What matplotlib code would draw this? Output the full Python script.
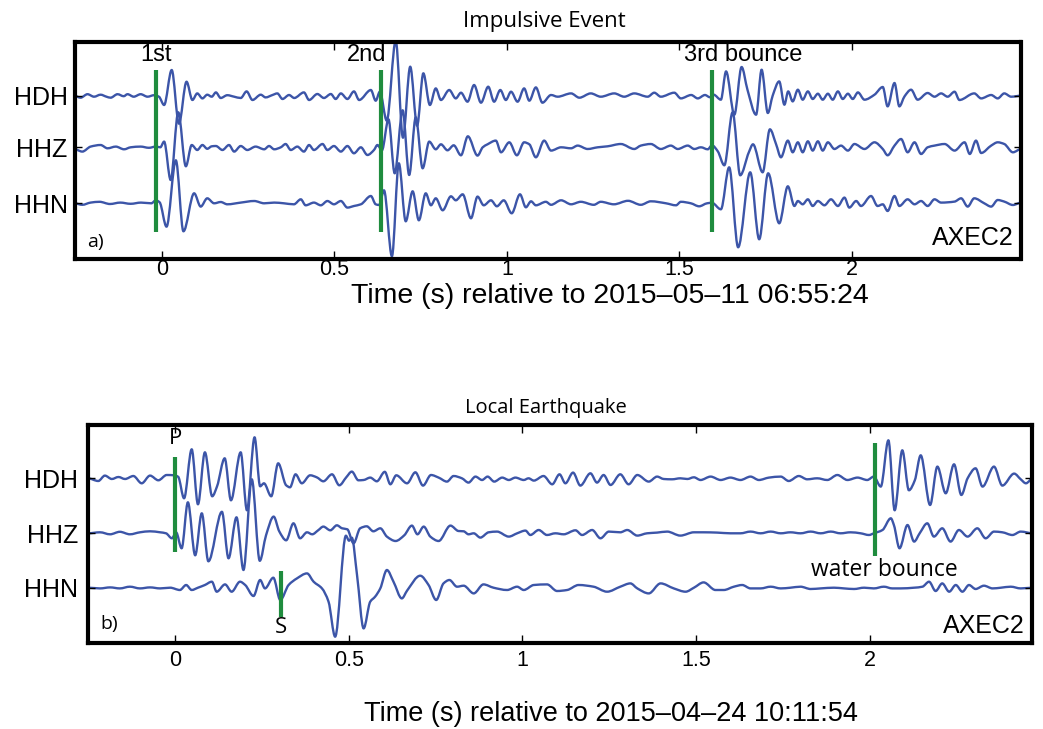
import numpy as np
import matplotlib
matplotlib.use("Agg")
import matplotlib.pyplot as plt
from matplotlib.path import Path
from matplotlib.patches import PathPatch

# ---------------------------------------------------------------------------
# Waveform extrema (time in s, amplitude in counts) for station AXEC2
# ---------------------------------------------------------------------------
CHANNELS = ["HDH", "HHZ", "HHN"]

# (a) impulsive event, 2015-05-11 06:55:24
A_T_HDH = [-0.253, -0.235, -0.215, -0.196, -0.177, -0.160, -0.148, -0.128, -0.110, -0.099,
           -0.081, -0.061, -0.041, -0.022, -0.008, 0.007, 0.029, 0.050, 0.072, 0.089,
           0.103, 0.118, 0.132, 0.145, 0.157, 0.171, 0.190, 0.210, 0.229, 0.246,
           0.263, 0.287, 0.301, 0.321, 0.335, 0.350, 0.369, 0.384, 0.412, 0.427,
           0.451, 0.470, 0.490, 0.504, 0.519, 0.538, 0.557, 0.572, 0.606, 0.620,
           0.632, 0.652, 0.678, 0.699, 0.720, 0.740, 0.758, 0.777, 0.794, 0.809,
           0.833, 0.852, 0.867, 0.886, 0.905, 0.925, 0.946, 0.963, 0.981, 0.997,
           1.012, 1.031, 1.050, 1.065, 1.084, 1.103, 1.128, 1.147, 1.186, 1.210,
           1.243, 1.272, 1.311, 1.340, 1.369, 1.408, 1.427, 1.446, 1.485, 1.504,
           1.534, 1.553, 1.574, 1.588, 1.599, 1.620, 1.635, 1.659, 1.680, 1.697,
           1.722, 1.738, 1.756, 1.770, 1.789, 1.804, 1.815, 1.828, 1.843, 1.857,
           1.872, 1.886, 1.901, 1.915, 1.930, 1.944, 1.959, 1.973, 1.988, 2.002,
           2.017, 2.036, 2.065, 2.089, 2.103, 2.123, 2.137, 2.152, 2.171, 2.190,
           2.219, 2.239, 2.258, 2.277, 2.297, 2.311, 2.354, 2.374, 2.403, 2.422,
           2.441, 2.461, 2.490]
A_HDH = [0, -2, 1.5, -1, 1, -1, -2, 1.5, -0.5, 1.5,
         -1, 1.5, -1, 0.5, -1, -9.3, 25.7, -28, 14, -4.3,
         2.3, -2.7, 1, -1, 3.3, -2.3, 0.5, -1, -2.3, 4.3,
         -4.3, 1, -1.7, 0.7, 2.3, -3.3, 0.7, -2.3, 3.3, -4.3,
         1.7, -2.3, 1.7, -3.3, 2.3, -3.3, 4.3, -4.3, 5.7, -5,
         4, -25, 55, -42, 29, -30, 22.4, -9.3, 7.3, -4.3,
         5.7, -2.7, 3, -6, 10.7, -7, 9, -6, 5.7, -4.3,
         4, -6, 7.3, -5, 8.3, -7, 0.7, -1, 2.3, -2,
         2.3, -1, 2.3, -1, 2.3, -1, 3, -1, 3, -2.7,
         0.7, -2.7, 0.7, -1.5, 1, -4, 24.3, -19, 28.7, 6,
         -19, 26, -17.3, 0, 14.3, -9, 4.3, -5.7, 6, -4,
         4.3, -3.3, 2, -4, 2, -4, 4.3, -3.3, 2, -3.3,
         3.3, -4, 1, 8.7, -10.7, 12.7, -10.7, -0.7, 6, -4,
         2.7, -1, 2.3, -1, 4, -4.3, 2.3, -2.7, 0.7, -2.7,
         2.3, -1, 0]

A_T_HHZ = [-0.253, -0.244, -0.230, -0.206, -0.177, -0.157, -0.133, -0.109, -0.090, -0.061,
           -0.037, -0.017, -0.004, 0.007, 0.026, 0.048, 0.070, 0.087, 0.103, 0.118,
           0.132, 0.145, 0.157, 0.176, 0.195, 0.210, 0.229, 0.248, 0.272, 0.297,
           0.311, 0.326, 0.345, 0.359, 0.374, 0.393, 0.412, 0.427, 0.441, 0.466,
           0.480, 0.499, 0.519, 0.538, 0.557, 0.577, 0.596, 0.615, 0.625, 0.638,
           0.657, 0.675, 0.698, 0.717, 0.736, 0.756, 0.775, 0.794, 0.809, 0.828,
           0.846, 0.867, 0.887, 0.915, 0.930, 0.944, 0.968, 0.983, 1.007, 1.029,
           1.050, 1.065, 1.084, 1.108, 1.128, 1.157, 1.186, 1.205, 1.234, 1.263,
           1.292, 1.330, 1.369, 1.388, 1.417, 1.446, 1.475, 1.495, 1.524, 1.543,
           1.562, 1.582, 1.594, 1.611, 1.630, 1.654, 1.676, 1.701, 1.713, 1.741,
           1.762, 1.780, 1.794, 1.814, 1.828, 1.843, 1.857, 1.872, 1.886, 1.901,
           1.915, 1.930, 1.949, 1.968, 1.988, 2.007, 2.036, 2.065, 2.089, 2.103,
           2.123, 2.142, 2.161, 2.181, 2.200, 2.219, 2.239, 2.268, 2.297, 2.326,
           2.341, 2.359, 2.374, 2.403, 2.422, 2.441, 2.466, 2.490]
A_HHZ = [-1, -2.7, -4.3, 0.7, 2.3, -1, 0.7, -2, 0, 0.7,
         -0.5, 0.7, 0, 5.7, -32.7, 35, -19, 2.3, -2.7, 2.3,
         -1.5, 1, 1.3, -2.7, 2.3, -4.3, 1.3, -2.7, 0.7, -2,
         1.3, -2, 0, 3.3, -2.7, 0.7, -4.3, 2.3, -2.7, 3.3,
         -2.7, 1.3, -4.3, 1.3, -6, 0, -7.7, -2.7, 2.3, -3,
         28, -26, 37, -27.7, 30, -21, 5.7, -2, 3, -3,
         2, -8, 11, -8.3, 0, 3, 6.7, -5, 5, -8,
         5, 3, -10, 6.7, -3.3, 0, -1, 1.7, -1.7, 0,
         1, 3.3, -1.7, 1.7, 3.3, -1.7, 1.7, -1.7, 1.7, -1.7,
         0, -2, 2, -4, -18, 35, -28, -5, 3, -25,
         18, 3, -10, 6.7, -5, 5, -5, 6, -3.3, 6,
         -3.3, 5, -1.7, 1.7, -3.3, 3.3, -1.7, 5, -1.7, -8,
         1.7, 8.3, -5, 5, -6.7, 0, 1.7, 3.3, -3.3, 5,
         -6.7, 6.7, -5.7, 1.7, 5, 3.3, -5, -1.7]

A_T_HHN = [-0.253, -0.230, -0.206, -0.180, -0.150, -0.120, -0.090, -0.060, -0.030, -0.017,
           -0.006, 0.014, 0.041, 0.063, 0.094, 0.113, 0.132, 0.152, 0.171, 0.190,
           0.229, 0.268, 0.297, 0.326, 0.354, 0.383, 0.403, 0.417, 0.441, 0.461,
           0.480, 0.499, 0.519, 0.538, 0.557, 0.577, 0.606, 0.620, 0.630, 0.644,
           0.667, 0.687, 0.707, 0.727, 0.745, 0.765, 0.780, 0.794, 0.814, 0.838,
           0.852, 0.872, 0.896, 0.915, 0.933, 0.954, 0.971, 0.991, 1.014, 1.038,
           1.055, 1.070, 1.084, 1.113, 1.128, 1.157, 1.186, 1.214, 1.252, 1.272,
           1.310, 1.351, 1.388, 1.417, 1.461, 1.490, 1.504, 1.533, 1.557, 1.580,
           1.594, 1.620, 1.644, 1.670, 1.705, 1.731, 1.757, 1.789, 1.814, 1.833,
           1.843, 1.857, 1.872, 1.886, 1.901, 1.920, 1.939, 1.959, 1.978, 1.992,
           2.012, 2.026, 2.055, 2.074, 2.089, 2.103, 2.123, 2.137, 2.161, 2.181,
           2.200, 2.219, 2.239, 2.258, 2.297, 2.316, 2.335, 2.354, 2.383, 2.403,
           2.422, 2.441, 2.466, 2.490]
A_HHN = [0, -1.5, 0.7, 1.5, -0.7, 0.7, -0.5, 0.7, 0, 3,
         1, -23.4, 43, -28, 10, -3.3, 5, 0, 1.3, -1,
         0.7, 2.3, 0, 0.7, 0, -1, 4, -2, 0.7, -2,
         2.3, -1, 2.3, -4.3, -2.7, -1, 7.3, -1, -1.7, 13,
         -53, 40, -18, 12, -17, 10, -2, 5, -7, 7,
         3, 9, -15, 6.7, -2, 3, -3, 3, -10, 9,
         -4, 2, -2, 1.5, -1.5, 3, -1, 1.5, -1.5, 1.5,
         -1, 2.5, -1.5, 2, 0, -2, 1.5, 0, -3, 0,
         0.5, -6, 36, -44, 31, -36, 30, -20, 17, -2.7,
         2.3, -1, 4, -2.7, 2.3, -2, 4, -2.7, 5.7, -4.3,
         2.3, -2.7, 7.3, -2.7, -1, -7.7, 7.3, -2.7, 4, -1,
         2.3, -2.7, 4, 0.7, 1.7, 5, -3.3, 5, 0, -3.3,
         3.3, 1.7, -1.7, 0.7]

# (b) local earthquake, 2015-04-24 10:11:54
B_T_HDH = [-0.251, -0.221, -0.202, -0.182, -0.163, -0.144, -0.120, -0.096, -0.072, -0.048,
           -0.024, -0.002, 0.009, 0.026, 0.048, 0.066, 0.086, 0.107, 0.121, 0.143,
           0.161, 0.189, 0.207, 0.229, 0.245, 0.256, 0.277, 0.297, 0.320, 0.331,
           0.347, 0.365, 0.389, 0.408, 0.427, 0.452, 0.473, 0.493, 0.509, 0.528,
           0.543, 0.562, 0.581, 0.604, 0.620, 0.637, 0.668, 0.692, 0.714, 0.737,
           0.759, 0.783, 0.802, 0.826, 0.845, 0.865, 0.884, 0.900, 0.919, 0.942,
           0.961, 0.980, 1.004, 1.018, 1.033, 1.061, 1.086, 1.107, 1.124, 1.146,
           1.167, 1.196, 1.215, 1.234, 1.254, 1.282, 1.306, 1.331, 1.364, 1.388,
           1.407, 1.431, 1.455, 1.475, 1.494, 1.513, 1.542, 1.571, 1.599, 1.628,
           1.657, 1.681, 1.710, 1.744, 1.767, 1.796, 1.820, 1.849, 1.878, 1.907,
           1.936, 1.965, 1.993, 2.012, 2.032, 2.054, 2.072, 2.094, 2.113, 2.130,
           2.147, 2.174, 2.195, 2.219, 2.243, 2.264, 2.282, 2.305, 2.325, 2.358,
           2.382, 2.416, 2.435, 2.450, 2.470]
B_HDH = [0, -2.7, 2.7, -0.7, 1.3, -0.7, 2.3, -5, 2.7, -2,
         3.3, 3, 1.5, -20, 29, -26, 26, -18, -8, 20,
         -22, 26, -32, 41, -8, -5, -18, 15, -7, -9,
         4, -5, 3, 1, -3, 4, -7, 1, 6.7, -2,
         -1.7, 0.7, -3, 6.5, -6, 3, -5, 6, -7.3, 3.3,
         0.7, -3.3, 2.3, 0, -4.3, 1.7, -1.7, 1.7, -3.3, 0.7,
         -1.7, 0.7, -1.7, 0, -2.3, 2.3, -6, 4, -5, 5.7,
         -7.3, 5, -4.3, 3.3, -6.7, 4, -6, 3.3, -3.3, 1.7,
         -0.7, -1, 0, -0.7, 1, -1.7, 1.7, -1.7, 0.7, -1.7,
         1.7, -1.7, 0.7, 1.7, -2.7, 2.3, -1, 0, -1.7, 3.3,
         -1.7, 0.7, -1.7, 1.7, -8.3, 38, -32, 28, -12, -2,
         23, -26.7, 11.7, -15, 14, -16.7, 0, 10, -8.3, 11.7,
         -7.3, 4.7, -1, -5, 0]

B_T_HHZ = [-0.251, -0.216, -0.187, -0.159, -0.130, -0.101, -0.072, -0.043, -0.026, -0.009,
           0.003, 0.019, 0.037, 0.058, 0.077, 0.096, 0.135, 0.154, 0.177, 0.197,
           0.221, 0.244, 0.262, 0.284, 0.300, 0.320, 0.341, 0.360, 0.380, 0.395,
           0.412, 0.427, 0.447, 0.466, 0.481, 0.496, 0.514, 0.533, 0.552, 0.571,
           0.591, 0.610, 0.635, 0.660, 0.682, 0.698, 0.716, 0.735, 0.759, 0.793,
           0.816, 0.831, 0.845, 0.860, 0.879, 0.903, 0.927, 0.961, 0.985, 1.009,
           1.023, 1.047, 1.071, 1.095, 1.119, 1.153, 1.172, 1.201, 1.225, 1.249,
           1.282, 1.302, 1.331, 1.359, 1.388, 1.417, 1.455, 1.494, 1.522, 1.561,
           1.599, 1.628, 1.657, 1.686, 1.715, 1.744, 1.772, 1.801, 1.830, 1.859,
           1.888, 1.916, 1.945, 1.974, 1.998, 2.012, 2.037, 2.061, 2.070, 2.086,
           2.109, 2.128, 2.144, 2.166, 2.185, 2.209, 2.233, 2.257, 2.282, 2.310,
           2.334, 2.358, 2.382, 2.411, 2.435, 2.470]
B_HHZ = [0, 1, -1, 1.5, -1, 1, 2, 1, 0, -5,
         1, -15, 31, -22, 20, -28, 21.5, -25, 16, -36.7,
         54, -27.5, -2, 16.7, 2, -7, 10, -5, 1, -1,
         3, 6.7, 3, 8, 5, 4, -10, 5, 7, 2,
         5, -3.3, -7.7, -2, 7.7, -1, 6.7, -3.3, -7.7, 7.7,
         2.3, 2, -1, 0, -4.3, 1, 1.7, -3.3, 0, 2.7,
         -1.7, 3.3, -1.7, 0, -1, 3, -1.7, 3.3, -5, 1.7,
         1, 3.3, -2.3, 0, 0.7, 1.7, -2.3, 1, 1, 0.7,
         0, 0, 1.7, 0, 1.7, 0, 1, 0, 1.7, 0,
         1.7, 0, 1, 0, -1.7, 0, 3.3, 15, 8, -15,
         8.3, -8.3, 0, 10, -3.3, 5, -8.3, 3.3, -3.3, 5,
         -5, 1.7, 1, -1.7, 1.7, 0]

B_T_HHN = [-0.251, -0.216, -0.187, -0.159, -0.130, -0.101, -0.072, -0.043, -0.014, 0.014,
           0.032, 0.048, 0.066, 0.086, 0.106, 0.120, 0.144, 0.163, 0.187, 0.202,
           0.226, 0.245, 0.259, 0.283, 0.303, 0.327, 0.351, 0.380, 0.399, 0.423,
           0.442, 0.461, 0.492, 0.501, 0.509, 0.524, 0.543, 0.562, 0.576, 0.591,
           0.610, 0.629, 0.653, 0.668, 0.706, 0.730, 0.752, 0.773, 0.790, 0.812,
           0.831, 0.860, 0.888, 0.917, 0.956, 0.985, 1.004, 1.033, 1.071, 1.100,
           1.129, 1.162, 1.205, 1.244, 1.282, 1.311, 1.331, 1.364, 1.398, 1.436,
           1.470, 1.494, 1.522, 1.556, 1.580, 1.609, 1.633, 1.657, 1.686, 1.715,
           1.744, 1.772, 1.801, 1.830, 1.859, 1.897, 1.926, 1.955, 1.984, 2.012,
           2.041, 2.065, 2.089, 2.128, 2.152, 2.171, 2.190, 2.209, 2.229, 2.248,
           2.267, 2.286, 2.305, 2.329, 2.354, 2.378, 2.406, 2.435, 2.470]
B_HHN = [0, -0.7, 0.3, -0.7, 1, -0.7, 0.3, -0.7, 0, -2.3,
         2.7, -2.3, 0, 2.7, 6, -4, 3.3, -4, 6, 2.7,
         -8.3, 7.7, -0.7, 10, -12.3, 2.7, 9.3, 14.3, 6, -0.7,
         -14, -49, 52, 47, 50, 12.7, -40.7, -14, -9, -0.7,
         17.7, 6, -10.7, -3, 12, 2.7, -12.3, 4.3, 7.7, 1,
         2, -5.7, 3.3, 0, -2.3, 1, -2.3, 2.7, 3.3, -3.3,
         -2.3, 2.7, 1, -4, 1, 4.3, -0.7, -5.7, 4.3, -0.7,
         -4, 0, 5.3, -2.3, -2.3, 1, 2.7, -0.7, -0.7, 1,
         -0.7, 0, 1, -1.3, -0.7, 0, -0.7, -1.3, 0, -0.7,
         1, -0.7, -0.7, 0, 1, 6, -3.3, 4.3, -4, 2.7,
         -4, 2.7, -1.3, 2, -0.7, 0, 1, -0.7, 0]

# phase picks (s)
A_PICKS = [-0.016, 0.634, 1.594]
A_PICK_LABELS = ["1st", "2nd", "3rd bounce"]
B_PICKS = [0.000, 0.305, 2.014]
B_PICK_LABELS = ["P", "S", "water bounce"]

XTICKS = [0, 0.5, 1, 1.5, 2]
XTICK_LABELS = ["0", "0.5", "1", "1.5", "2"]

# ---------------------------------------------------------------------------
BLUE = "#3c55a8"
GREEN = "#1f8c3e"
HELV = ["Liberation Sans", "DejaVu Sans"]
HUMAN = ["Open Sans", "DejaVu Sans"]


def slopes(x, y):
    """Shape-preserving tangents: flat at extrema, harmonic mean elsewhere."""
    h = np.diff(x)
    d = np.diff(y) / h
    m = np.zeros_like(y)
    for i in range(1, len(y) - 1):
        if d[i - 1] * d[i] > 0:
            w1 = 2 * h[i] + h[i - 1]
            w2 = h[i] + 2 * h[i - 1]
            m[i] = (w1 + w2) / (w1 / d[i - 1] + w2 / d[i])
    return m


def trace_patch(t, amp, offset):
    t = np.asarray(t, float)
    y = np.asarray(amp, float) + offset
    m = slopes(t, y)
    verts = [(t[0], y[0])]
    codes = [Path.MOVETO]
    for i in range(len(t) - 1):
        h = (t[i + 1] - t[i]) / 3.0
        verts += [(t[i] + h, y[i] + m[i] * h),
                  (t[i + 1] - h, y[i + 1] - m[i + 1] * h),
                  (t[i + 1], y[i + 1])]
        codes += [Path.CURVE4] * 3
    return PathPatch(Path(verts, codes), facecolor="none", edgecolor=BLUE,
                     lw=1.7, joinstyle="round", capstyle="round")


def style_axes(ax, xlim, ylim, offsets, ypad, xpad):
    ax.set_xlim(*xlim)
    ax.set_ylim(*ylim)
    ax.set_xticks(XTICKS)
    ax.set_xticklabels(XTICK_LABELS, fontfamily=HELV, fontsize=15.5)
    ax.set_yticks(offsets)
    ax.set_yticklabels(CHANNELS, fontfamily=HELV, fontsize=18)
    ax.tick_params(axis="x", direction="in", top=True, length=6, width=1, pad=xpad)
    ax.tick_params(axis="y", direction="in", right=True, length=5, width=1, pad=ypad)
    for s in ax.spines.values():
        s.set_linewidth(3.0)


W, H = 1043, 729
fig = plt.figure(figsize=(W / 100, H / 100), dpi=100)

# ---------------- panel (a) ----------------
axA = fig.add_axes([74.5 / W, 1 - 258.7 / H, (1020.5 - 74.5) / W, (258.7 - 41.7) / H])
A_OFF = [107.6, 56.0, 0.0]
for (t, a), off in zip([(A_T_HDH, A_HDH), (A_T_HHZ, A_HHZ), (A_T_HHN, A_HHN)], A_OFF):
    axA.add_patch(trace_patch(t, a, off))
for tp in A_PICKS:
    axA.plot([tp, tp], [-28.4, 133], color=GREEN, lw=3.0, solid_capstyle="butt")
axA.text(A_PICKS[0], 148.5, A_PICK_LABELS[0], ha="center", va="center",
         fontfamily=HELV, fontsize=17)
axA.text(A_PICKS[1] - 0.04, 148.5, A_PICK_LABELS[1], ha="center", va="center",
         fontfamily=HELV, fontsize=17)
axA.text(A_PICKS[2] - 0.08, 148.5, A_PICK_LABELS[2], ha="left", va="center",
         fontfamily=HELV, fontsize=17)
style_axes(axA, (-0.2526, 2.488), (-55.4, 161.6), A_OFF, 5, 0)
axA.text(0.013, 0.078, "a)", transform=axA.transAxes, fontfamily=HUMAN,
         fontsize=14, ha="left", va="center")
axA.text(0.993, 0.095, "AXEC2", transform=axA.transAxes, fontfamily=HELV,
         fontsize=18, ha="right", va="center")
fig.text(544 / W, 1 - 22 / H, "Impulsive Event", fontfamily=HUMAN, fontsize=16,
         ha="center", va="center")
fig.text(610 / W, 1 - 283.5 / H, "Time (s) relative to 2015\u201305\u201311 06:55:24",
         fontfamily=HELV, fontsize=20.5, ha="center", va="top")

# ---------------- panel (b) ----------------
axB = fig.add_axes([88 / W, 1 - 642.8 / H, (1031.5 - 88) / W, (642.8 - 424.5) / H])
B_OFF = [109.4, 54.4, 0.0]
for (t, a), off in zip([(B_T_HDH, B_HDH), (B_T_HHZ, B_HHZ), (B_T_HHN, B_HHN)], B_OFF):
    axB.add_patch(trace_patch(t, a, off))
axB.plot([B_PICKS[0]] * 2, [35.4, 131], color=GREEN, lw=3.0, solid_capstyle="butt")
axB.plot([B_PICKS[1]] * 2, [-29, 16.7], color=GREEN, lw=3.0, solid_capstyle="butt")
axB.plot([B_PICKS[2]] * 2, [32, 144.4], color=GREEN, lw=3.0, solid_capstyle="butt")
axB.text(B_PICKS[0], 148.7, B_PICK_LABELS[0], ha="center", va="center",
         fontfamily=HUMAN, fontsize=16)
axB.text(B_PICKS[1], -39.8, B_PICK_LABELS[1], ha="center", va="center",
         fontfamily=HUMAN, fontsize=16)
axB.text(B_PICKS[2] + 0.027, 17.7, B_PICK_LABELS[2], ha="center", va="center",
         fontfamily=HUMAN, fontsize=16.5)
style_axes(axB, (-0.2506, 2.466), (-55.1, 163.2), B_OFF, 7, 5)
axB.text(0.013, 0.085, "b)", transform=axB.transAxes, fontfamily=HUMAN,
         fontsize=14, ha="left", va="center")
axB.text(0.993, 0.075, "AXEC2", transform=axB.transAxes, fontfamily=HELV,
         fontsize=18, ha="right", va="center")
fig.text(546 / W, 1 - 408 / H, "Local Earthquake", fontfamily=HUMAN, fontsize=14.5,
         ha="center", va="center")
fig.text(611 / W, 1 - 714 / H, "Time (s) relative to 2015\u201304\u201324 10:11:54",
         fontfamily=HELV, fontsize=19.5, ha="center", va="center")

fig.savefig("out.png", dpi=100, facecolor="white")
